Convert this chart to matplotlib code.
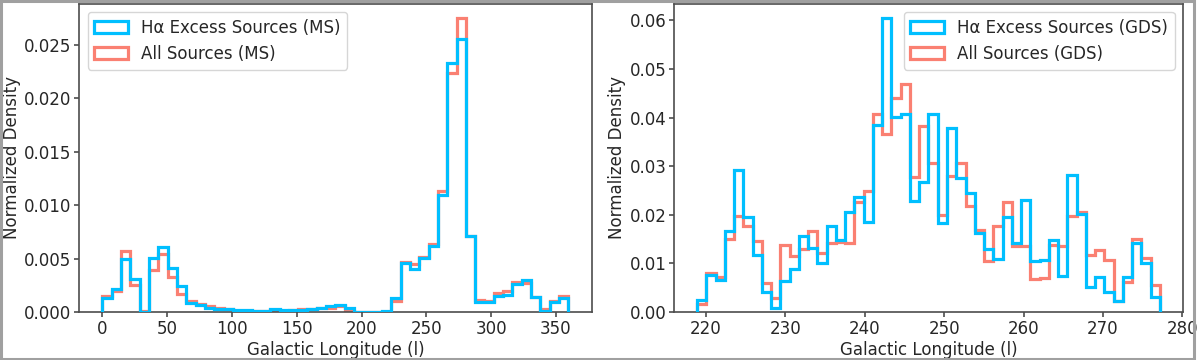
import numpy as np
import matplotlib.pyplot as plt
from matplotlib.patches import Rectangle

# bin ranges (50 bins each)
ms_range = (0.0, 359.5)
gds_range = (218.9, 277.15)
n_bins = 50

# Main survey (MS) normalized densities per bin
ms_halpha = [0.0013, 0.0022, 0.0050, 0.0031, 0.0000, 0.0051, 0.0061, 0.0041, 0.0024, 0.00085,
             0.00062, 0.00043, 0.00031, 0.00025, 0.00019, 0.00019, 0.00012, 0.00012, 0.00025, 0.00019,
             0.00019, 0.00019, 0.00025, 0.00037, 0.00056, 0.00065, 0.00043, 0.0000, 0.0000, 0.00005,
             0.00012, 0.0013, 0.0046, 0.0040, 0.0051, 0.0062, 0.0110, 0.0233, 0.0256, 0.0071,
             0.00095, 0.00095, 0.0015, 0.0016, 0.0026, 0.0030, 0.0014, 0.00012, 0.00095, 0.0013]
ms_all = [0.0015, 0.0020, 0.0057, 0.0025, 0.0001, 0.0039, 0.0054, 0.0033, 0.0017, 0.0010,
          0.00074, 0.00056, 0.00043, 0.00028, 0.0001, 0.00007, 0.00012, 0.00012, 0.00016, 0.0001,
          0.00019, 0.00025, 0.00031, 0.00037, 0.00043, 0.00056, 0.00012, 0.0000, 0.0000, 0.00003,
          0.00005, 0.00105, 0.0047, 0.0045, 0.0052, 0.0064, 0.0113, 0.0224, 0.0275, 0.0071,
          0.0011, 0.0010, 0.0018, 0.0020, 0.0028, 0.0027, 0.0014, 0.0003, 0.0010, 0.0015]

# Galactic disk survey (GDS) normalized densities per bin
gds_halpha = [0.0024, 0.0077, 0.0065, 0.0166, 0.0292, 0.0195, 0.0118, 0.0042, 0.0009, 0.0063,
              0.0089, 0.0157, 0.0131, 0.0101, 0.0177, 0.0148, 0.0205, 0.0237, 0.0186, 0.0385,
              0.0604, 0.0402, 0.0408, 0.0229, 0.0267, 0.0408, 0.0183, 0.0378, 0.0276, 0.0244,
              0.0162, 0.0130, 0.0109, 0.0196, 0.0142, 0.0231, 0.0106, 0.0107, 0.0149, 0.0075,
              0.0282, 0.0202, 0.0051, 0.0072, 0.0042, 0.0023, 0.0073, 0.0142, 0.0101, 0.0031]
gds_all = [0.0017, 0.0081, 0.0072, 0.0150, 0.0197, 0.0177, 0.0147, 0.0060, 0.0029, 0.0138,
           0.0116, 0.0129, 0.0166, 0.0122, 0.0142, 0.0144, 0.0142, 0.0226, 0.0248, 0.0408,
           0.0367, 0.0440, 0.0469, 0.0277, 0.0383, 0.0306, 0.0200, 0.0280, 0.0306, 0.0219,
           0.0168, 0.0106, 0.0178, 0.0226, 0.0135, 0.0135, 0.0068, 0.0071, 0.0137, 0.0135,
           0.0198, 0.0205, 0.0118, 0.0127, 0.0107, 0.0023, 0.0062, 0.0150, 0.0111, 0.0055]

plt.rcParams['font.size'] = 12
plt.rcParams['text.color'] = '.15'
plt.rcParams['axes.labelcolor'] = '.15'
plt.rcParams['axes.edgecolor'] = '.3'
plt.rcParams['axes.linewidth'] = 1.2
plt.rcParams['axes.labelpad'] = 2.5
plt.rcParams['xtick.color'] = '.3'
plt.rcParams['ytick.color'] = '.3'
plt.rcParams['xtick.labelcolor'] = '.15'
plt.rcParams['ytick.labelcolor'] = '.15'
plt.rcParams['xtick.major.size'] = 3.5
plt.rcParams['ytick.major.size'] = 3.5
plt.rcParams['xtick.major.pad'] = 2
plt.rcParams['ytick.major.pad'] = 2
plt.rcParams['xtick.major.width'] = 1.2
plt.rcParams['ytick.major.width'] = 1.2

blue = '#00BFFF'
red = '#FA8072'

fig = plt.figure(figsize=(12, 3.6), dpi=100)
ax1 = fig.add_axes([0.066, 0.133, 0.427, 0.857])
ax2 = fig.add_axes([0.5617, 0.133, 0.4241, 0.857])


def draw(ax, rng, ha, allv, tag, loc):
    edges = np.linspace(rng[0], rng[1], n_bins + 1)
    ax.hist(edges[:-1], bins=edges, weights=ha, histtype='step', color=blue,
            lw=2.3, zorder=3, label=f'H\u03b1 Excess Sources ({tag})')
    ax.hist(edges[:-1], bins=edges, weights=allv, histtype='step', color=red,
            lw=2.3, zorder=2, label=f'All Sources ({tag})')
    ax.set_xlabel('Galactic Longitude (l)')
    ax.set_ylabel('Normalized Density')
    ax.legend(loc=loc)


draw(ax1, ms_range, ms_halpha, ms_all, 'MS', 'upper left')
draw(ax2, gds_range, gds_halpha, gds_all, 'GDS', 'upper right')

# grey frame around the whole figure
fig.patches.append(Rectangle((0.001, 0.004), 0.994, 0.992, fill=False,
                             edgecolor='#a0a0a0', lw=2.2, transform=fig.transFigure))

fig.savefig('out.png', dpi=100)
